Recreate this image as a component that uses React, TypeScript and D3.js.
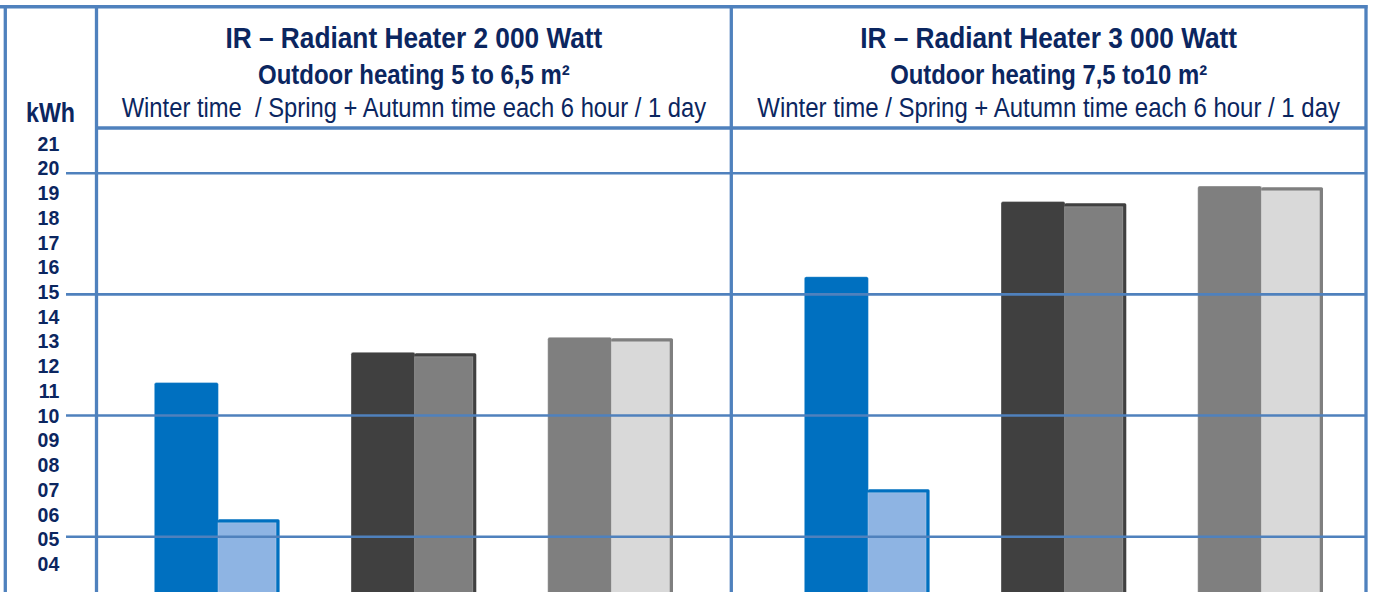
import { useLayoutEffect, useRef, useState } from "react";
import * as d3 from "d3";

// chart content
const panelTitles = ["IR – Radiant Heater 2 000 Watt", "IR – Radiant Heater 3 000 Watt"];
const panelAreas = ["Outdoor heating 5 to 6,5 m²", "Outdoor heating 7,5 to10 m²"];
const panelNotes = [
  "Winter time  / Spring + Autumn time each 6 hour / 1 day",
  "Winter time / Spring + Autumn time each 6 hour / 1 day",
];
const groups = ["infrared", "heaterA", "heaterB"];
const seasons = ["winter", "springAutumn"];
const winterValues = [
  [11.36, 12.61, 13.23],
  [15.73, 18.83, 19.47],
];
const springAutumnValues = [
  [5.72, 12.57, 13.19],
  [6.96, 18.76, 19.42],
];
const tickLabels = ["21", "20", "19", "18", "17", "16", "15", "14", "13", "12", "11", "10", "09", "08", "07", "06", "05", "04"];
const gridValues = [20, 15, 10, 5];
const unitLabel = "kWh";

// styling
const W = 1373;
const H = 592;
const lineColor = "#4f81bd";
const textColor = "#0b2660";
const narrow = "'Liberation Sans Narrow', 'Arial Narrow', 'Liberation Sans', Arial, sans-serif";
const fullColors = ["#0070c0", "#404040", "#7f7f7f"];
const lightColors = ["#8eb4e3", "#7f7f7f", "#d9d9d9"];
const panelBounds = [
  [96.5, 731.3],
  [731.3, 1366],
];
const groupRanges = [
  [154.3, 673],
  [804.3, 1323],
];
const titleWidths = [377, 377];
const areaWidths = [312, 317];
const noteWidths = [585, 583];

// text squeezed horizontally to a given width (the original uses a narrow face)
function FitText(props: { x: number; y: number; width: number; size: number; bold?: boolean; text: string }) {
  const ref = useRef<SVGTextElement | null>(null);
  const [sx, setSx] = useState(1);
  useLayoutEffect(() => {
    if (!ref.current) return;
    const natural = ref.current.getComputedTextLength();
    if (natural > 0) setSx(props.width / natural);
  }, [props.width, props.text, props.size]);
  return (
    <text
      ref={ref}
      transform={`translate(${props.x},${props.y}) scale(${sx},1)`}
      fontSize={props.size}
      fontWeight={props.bold ? "bold" : "normal"}
      textAnchor="middle"
      style={{ whiteSpace: "pre" }}
    >
      {props.text}
    </text>
  );
}

export default function App() {
  const y = d3.scaleLinear().domain([5, 20]).range([536.7, 173.2]);
  const yLabel = d3.scaleLinear().domain([4, 21]).range([571, 150.7]);

  return (
    <svg
      width={W}
      height={H}
      style={{ position: "absolute", left: 0, top: 0, display: "block", background: "#fff" }}
    >
      {/* bars */}
      {panelBounds.map((_, p) => {
        const x = d3.scaleBand<string>().domain(groups).range(groupRanges[p] as [number, number]).paddingInner(0.363);
        const sub = d3.scaleBand<string>().domain(seasons).range([0, x.bandwidth()]);
        return (
          <g key={p}>
            {groups.map((g, i) => {
              const gx = x(g)!;
              const vA = winterValues[p][i];
              const vB = springAutumnValues[p][i];
              const xA = gx + sub("winter")!;
              const xB = gx + sub("springAutumn")!;
              const w = sub.bandwidth();
              return (
                <g key={g}>
                  <rect x={xA} y={y(vA)} width={w + 1.5} height={H - y(vA) + 20} rx={2}
                    fill={fullColors[i]} stroke="rgba(255,255,255,0.35)" strokeWidth={1} />
                  <rect x={xB + 1} y={y(vB)} width={w - 1} height={H - y(vB) + 20} rx={1.5} fill={fullColors[i]} />
                  <rect x={xB + 1} y={y(vB) + 3.5} width={w - 4.5} height={H - y(vB) + 20}
                    fill={lightColors[i]} stroke="rgba(255,255,255,0.3)" strokeWidth={0.8} />
                </g>
              );
            })}
          </g>
        );
      })}

      {/* grid */}
      {gridValues.map((v) => (
        <line key={v} x1={66} x2={1366} y1={y(v)} y2={y(v)} stroke={lineColor} strokeWidth={2.6} />
      ))}

      {/* frame */}
      <line x1={0} x2={1367.5} y1={6.8} y2={6.8} stroke={lineColor} strokeWidth={3.5} />
      <line x1={96.5} x2={1366} y1={128} y2={128} stroke={lineColor} strokeWidth={3.6} />
      {[5.3, 96.5, 731.3, 1366].map((lx) => (
        <line key={lx} x1={lx} x2={lx} y1={5} y2={H} stroke={lineColor} strokeWidth={3.3} />
      ))}

      {/* headers */}
      {panelBounds.map(([a, b], p) => {
        const cx = (a + b) / 2;
        return (
          <g key={p} fill={textColor} fontFamily={narrow}>
            <FitText x={cx} y={48.3} width={titleWidths[p]} size={30} bold text={panelTitles[p]} />
            <FitText x={cx} y={84.3} width={areaWidths[p]} size={27.5} bold text={panelAreas[p]} />
            <FitText x={cx} y={116.7} width={noteWidths[p]} size={27.5} text={panelNotes[p]} />
          </g>
        );
      })}

      {/* axis labels */}
      <g fill={textColor} fontFamily={narrow}>
        <FitText x={50.5} y={121.7} width={49} size={28} bold text={unitLabel} />
      </g>
      {tickLabels.map((t) => (
        <text key={t} x={59.3} y={yLabel(+t)} fill={textColor} fontFamily={narrow} fontSize={19.5}
          fontWeight="bold" textAnchor="end">
          {t}
        </text>
      ))}
    </svg>
  );
}
